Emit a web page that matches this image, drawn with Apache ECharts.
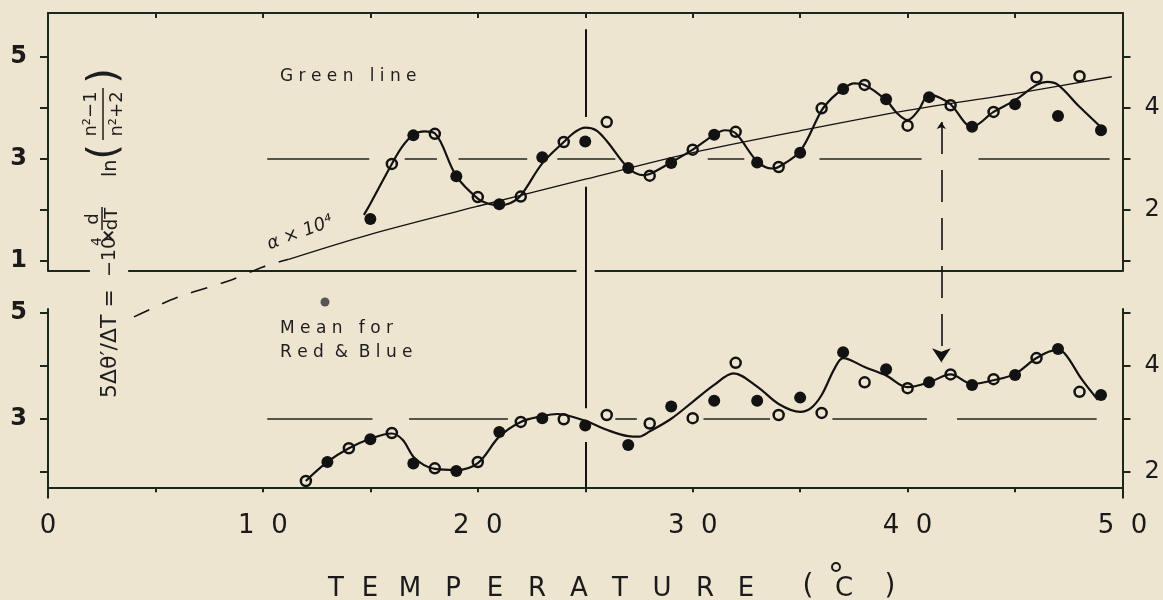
<!DOCTYPE html>
<html>
<head>
<meta charset="utf-8">
<script src="https://cdn.jsdelivr.net/npm/echarts@6/dist/echarts.min.js"></script>
<style>
html,body{margin:0;padding:0;background:#eee5d1;}
#c{width:1163px;height:600px;}
</style>
</head>
<body>
<div id="c"></div>
<script>
// ---------- DATA ----------
// Upper panel: "Green line"
const topFilled = [[15,1.82],[17,3.46],[19,2.66],[21,2.11],[23,3.03],[25,3.34],[27,2.82],[29,2.92],[31,3.47],[33,2.93],[35,3.12],[37,4.37],[39,4.17],[41,4.21],[43,3.63],[45,4.07],[47,3.84],[49,3.56]];
const topOpen = [[16,2.90],[18,3.49],[20,2.25],[22,2.26],[24,3.33],[26,3.72],[28,2.67],[30,3.18],[32,3.53],[34,2.84],[36,3.99],[38,4.45],[40,3.65],[42,4.05],[44,3.92],[46,4.60],[48,4.62]];
const topCurve = [[14.7,1.90],[15,2.12],[16,2.90],[16.5,3.25],[17,3.47],[17.5,3.54],[18,3.50],[19,2.66],[20,2.22],[20.5,2.12],[21,2.09],[21.5,2.13],[22,2.28],[23,2.91],[24,3.33],[24.5,3.52],[25,3.61],[25.5,3.56],[26,3.35],[27,2.82],[27.7,2.68],[28,2.70],[29,2.93],[30,3.18],[31,3.47],[31.5,3.56],[32,3.50],[33,2.95],[33.7,2.81],[34,2.84],[35,3.15],[36,3.95],[36.5,4.20],[37,4.37],[37.5,4.48],[38,4.45],[39,4.15],[39.5,3.90],[40,3.76],[40.5,3.95],[41,4.26],[41.5,4.20],[42,4.07],[43,3.63],[44,3.92],[45,4.15],[46,4.45],[46.5,4.51],[47,4.45],[48,4.02],[49.1,3.58]];
// alpha x 10^4 (thermal expansion)
const alphaSolid = [[11.2,1.03],[15,1.52],[20,2.07],[25,2.60],[30,3.12],[35,3.55],[40,3.95],[45,4.28],[49.5,4.61]];
const alphaDashed = [[4,-0.10],[6,0.28],[8.5,0.62],[10,0.88],[11.2,1.03]];
// Lower panel: "Mean for Red & Blue"
const botFilled = [[13,2.18],[15,2.61],[17,2.15],[19,2.01],[21,2.75],[23,3.01],[25,2.87],[27,2.50],[29,3.23],[31,3.34],[33,3.34],[35,3.40],[37,4.26],[39,3.94],[41,3.69],[43,3.64],[45,3.83],[47,4.32],[49,3.45]];
const botOpen = [[12,1.82],[14,2.44],[16,2.73],[18,2.06],[20,2.18],[22,2.94],[24,2.99],[26,3.07],[28,2.91],[30,3.01],[32,4.06],[34,3.07],[36,3.11],[38,3.69],[40,3.58],[42,3.84],[44,3.75],[46,4.15],[48,3.51]];
const botCurve = [[12,1.82],[13,2.18],[14,2.44],[15,2.62],[16,2.72],[16.5,2.60],[17,2.28],[17.5,2.12],[18,2.05],[19,2.03],[20,2.16],[21,2.66],[22,2.94],[23,3.05],[23.7,3.09],[24,3.08],[25,2.96],[26,2.79],[27,2.67],[27.5,2.66],[28,2.76],[29,3.00],[30,3.32],[31,3.64],[31.9,3.86],[33,3.61],[34,3.28],[35,3.13],[35.5,3.20],[36,3.45],[36.6,3.95],[37,4.15],[38,3.98],[39,3.82],[40,3.60],[41,3.69],[42,3.84],[43,3.66],[44,3.73],[45,3.85],[46,4.15],[46.9,4.30],[47.3,4.24],[48.1,3.75],[48.85,3.36]];
// reference level (value 3) drawn in broken segments [from, to]
const topRefSegs = [[10.2,14.95],[16.6,18.1],[19.1,22.3],[23.7,26.4],[30.7,32.4],[35.9,40.65],[43.3,49.4]];
const botRefSegs = [[10.2,15.1],[16.8,21.4],[26.4,27.4],[30.5,33.6],[36.5,40.9],[42.3,48.8]];
const refLevel = 3;
// separator line between panels (upper panel bottom edge), broken segments
const sepSegs = [[0,1.95],[3.73,24.59],[25.44,50]];
// vertical marker at 25 C (value ranges in each panel)
const markT = 25;
const vTopSegs = [[5.54,3.82],[2.45,0.8]];
const vBotSegs = [[5.8,3.20],[2.56,1.7]];
// dashed double arrow at 41.6 C
const arrowT = 41.57;
const arrowRange = [3.72,-0.99];
// axis ticks / labels
const xTicks = [5,10,15,20,25,30,35,40,45];
const xLabels = [0,10,20,30,40,50];
const yTicksTop = [1,2,3,4,5];
const yLabTopLeft = [1,3,5];
const yLabTopRight = [2,4];
const yTicksBot = [2,3,4,5];
const yLabBotLeft = [3,5];
const yLabBotRight = [2,4];
const topRange = [0.8,5.86];
const botRange = [1.7,5.08];
const xRange = [0,50];
// short extensions of the lower panel's side axes below the x axis
const axisExt = [[1.7,1.49]];

// ---------- STYLE ----------
const BG = '#eee5d1';
const INK = '#121212';
const AX = '#1b271d';
const FONT = 'DejaVu Sans';

const chart = echarts.init(document.getElementById('c'), null, {renderer:'canvas'});

function yAx(grid, pos, range, ticks, labels){
  return {
    type:'value', gridIndex:grid, position:pos, min:range[0], max:range[1],
    axisLine:{show:true, lineStyle:{color:AX, width:2}},
    axisTick:{show:true, length:8, lineStyle:{color:AX, width:2}, customValues:ticks},
    axisLabel:{show:true, customValues:labels, color:'#1a1a1a', fontSize:24, fontFamily:FONT,
      fontWeight: pos==='left' ? 'bold' : 'normal', margin:pos==='left'?21:22},
    splitLine:{show:false}
  };
}
function segLines(segs, y, xi, yi, style){
  return {type:'lines', coordinateSystem:'cartesian2d', xAxisIndex:xi, yAxisIndex:yi, clip:false, silent:true,
    lineStyle:style, data: segs.map(s=>({coords:[[s[0],y],[s[1],y]]}))};
}
function vLines(t, segs, xi, yi, style){
  return {type:'lines', coordinateSystem:'cartesian2d', xAxisIndex:xi, yAxisIndex:yi, clip:false, silent:true,
    lineStyle:style, data: segs.map(s=>({coords:[[t,s[0]],[t,s[1]]]}))};
}

const refStyle = {color:AX, width:1.6, opacity:1};
const markStyle = {color:INK, width:2, opacity:1};
const filledStyle = {color:INK, opacity:1};
const openStyle = {color:BG, borderColor:INK, borderWidth:2.5, opacity:1};
const axStyle = {color:AX, width:2, opacity:1};

const series = [
  // upper panel
  segLines(topRefSegs, refLevel, 0, 0, refStyle),
  segLines(sepSegs, topRange[0], 0, 0, axStyle),
  vLines(markT, vTopSegs, 0, 0, markStyle),
  {type:'line', xAxisIndex:0, yAxisIndex:0, data:alphaSolid, smooth:0.3, showSymbol:false, clip:false,
    lineStyle:{color:INK, width:1.3}},
  {type:'line', xAxisIndex:0, yAxisIndex:0, data:alphaDashed, smooth:0.3, showSymbol:false, clip:false,
    lineStyle:{color:INK, width:1.6, type:[17,14]}},
  {type:'lines', coordinateSystem:'cartesian2d', xAxisIndex:0, yAxisIndex:0, clip:false, silent:true,
    symbol:['arrow','arrow'], symbolSize:[7,14],
    lineStyle:{color:INK, width:1.6, type:[32,16], opacity:1},
    data:[{coords:[[arrowT,arrowRange[0]],[arrowT,arrowRange[1]]]}]},
  {type:'line', xAxisIndex:0, yAxisIndex:0, data:topCurve, smooth:0.35, showSymbol:false,
    lineStyle:{color:INK, width:2.2}},
  {type:'scatter', xAxisIndex:0, yAxisIndex:0, data:topFilled, symbolSize:12, itemStyle:filledStyle},
  {type:'scatter', xAxisIndex:0, yAxisIndex:0, data:topOpen, symbolSize:10, itemStyle:openStyle},
  // lower panel
  segLines(botRefSegs, refLevel, 1, 2, refStyle),
  vLines(markT, vBotSegs, 1, 2, markStyle),
  vLines(xRange[0], axisExt, 1, 2, axStyle),
  vLines(xRange[1], axisExt, 1, 2, axStyle),
  {type:'line', xAxisIndex:1, yAxisIndex:2, data:botCurve, smooth:0.35, showSymbol:false,
    lineStyle:{color:INK, width:2.2}},
  {type:'scatter', xAxisIndex:1, yAxisIndex:2, data:botFilled, symbolSize:12, itemStyle:filledStyle},
  {type:'scatter', xAxisIndex:1, yAxisIndex:2, data:botOpen, symbolSize:10, itemStyle:openStyle}
];

// axis title letters
const titleLetters = 'TEMPERATURE'.split('');
const titleX = [336,370,410,453,495,537,579,620,662,705,746];
const graphics = [];
titleLetters.forEach((ch,i)=>{
  graphics.push({type:'text', x:titleX[i], y:589, style:{text:ch, fill:'#1a1a1a', font:'26px "DejaVu Sans"', textAlign:'center', textVerticalAlign:'middle'}});
});
graphics.push({type:'text', x:808, y:587, style:{text:'(', fill:'#1a1a1a', font:'28px "DejaVu Sans"', textAlign:'center', textVerticalAlign:'middle'}});
graphics.push({type:'text', x:844, y:589, style:{text:'C', fill:'#1a1a1a', font:'26px "DejaVu Sans"', textAlign:'center', textVerticalAlign:'middle'}});
graphics.push({type:'text', x:890, y:587, style:{text:')', fill:'#1a1a1a', font:'28px "DejaVu Sans"', textAlign:'center', textVerticalAlign:'middle'}});
graphics.push({type:'circle', shape:{cx:836, cy:567, r:4}, style:{fill:'none', stroke:'#1a1a1a', lineWidth:2}});

// panel labels
const lab = (t,x,y,fs)=>({type:'text', x:x, y:y, style:{text:t, fill:'#1d1d1d', font:(fs||17)+'px "DejaVu Sans"', textAlign:'left', textVerticalAlign:'middle'}});
graphics.push(lab('G r e e n   l i n e', 280, 77));
graphics.push(lab('M e a n   f o r', 280, 329));
graphics.push(lab('R e d  &  B l u e', 280, 353));
graphics.push({type:'text', x:300, y:233, rotation:0.36, style:{text:'α × 10⁴', fill:'#1d1d1d', font:'italic 18px "DejaVu Sans"', textAlign:'center', textVerticalAlign:'middle'}});
graphics.push({type:'circle', shape:{cx:325, cy:302, r:4.5}, style:{fill:'#555', stroke:'none'}});

// rotated y-axis title
const tf = (fs)=>fs+'px "DejaVu Sans"';
const yt = {type:'group', x:110, y:398, rotation:Math.PI/2, children:[
  {type:'text', x:0, y:0, style:{text:'5Δθ′/ΔT =', fill:'#1d1d1d', font:tf(22), textAlign:'left', textVerticalAlign:'middle'}},
  {type:'text', x:121, y:0, style:{text:'−10', fill:'#1d1d1d', font:tf(19), textAlign:'left', textVerticalAlign:'middle'}},
  {type:'text', x:152, y:-13, style:{text:'4', fill:'#1d1d1d', font:tf(14), textAlign:'left', textVerticalAlign:'middle'}},
  {type:'text', x:155, y:0, style:{text:'×', fill:'#1d1d1d', font:'bold 17px "DejaVu Sans"', textAlign:'left', textVerticalAlign:'middle'}},
  {type:'text', x:179, y:-17, style:{text:'d', fill:'#1d1d1d', font:tf(18), textAlign:'center', textVerticalAlign:'middle'}},
  {type:'line', shape:{x1:168, y1:-8, x2:191, y2:-8}, style:{stroke:'#1d1d1d', lineWidth:1.5}},
  {type:'text', x:179, y:2, style:{text:'dT', fill:'#1d1d1d', font:tf(18), textAlign:'center', textVerticalAlign:'middle'}},
  {type:'text', x:221, y:1, style:{text:'ln', fill:'#1d1d1d', font:tf(19), textAlign:'left', textVerticalAlign:'middle'}},
  {type:'text', x:246, y:-4, style:{text:'(', fill:'#1d1d1d', font:tf(40), textAlign:'center', textVerticalAlign:'middle'}},
  {type:'text', x:284, y:-19, style:{text:'n²−1', fill:'#1d1d1d', font:tf(18), textAlign:'center', textVerticalAlign:'middle'}},
  {type:'line', shape:{x1:258, y1:-7, x2:310, y2:-7}, style:{stroke:'#1d1d1d', lineWidth:1.5}},
  {type:'text', x:284, y:7, style:{text:'n²+2', fill:'#1d1d1d', font:tf(18), textAlign:'center', textVerticalAlign:'middle'}},
  {type:'text', x:322, y:-4, style:{text:')', fill:'#1d1d1d', font:tf(40), textAlign:'center', textVerticalAlign:'middle'}}
]};
graphics.push(yt);

chart.setOption({
  backgroundColor: BG,
  animation:false,
  grid:[
    {left:48, right:40.5, top:13, height:258},
    {left:48, right:40.5, top:309, height:178.3}
  ],
  xAxis:[
    {type:'value', gridIndex:0, position:'top', min:xRange[0], max:xRange[1],
      axisLine:{show:true, lineStyle:{color:AX, width:2}},
      axisTick:{show:true, inside:true, length:5, customValues:xTicks, lineStyle:{color:AX, width:2}},
      axisLabel:{show:false}, splitLine:{show:false}},
    {type:'value', gridIndex:1, position:'bottom', min:xRange[0], max:xRange[1],
      axisLine:{show:true, lineStyle:{color:AX, width:2}},
      axisTick:{show:true, length:5, customValues:xTicks, lineStyle:{color:AX, width:2}},
      axisLabel:{show:true, customValues:xLabels, margin:26, color:'#1a1a1a', fontSize:26, fontFamily:FONT,
        formatter:v=>String(v).split('').join('  ')},
      splitLine:{show:false}}
  ],
  yAxis:[
    yAx(0,'left',topRange,yTicksTop,yLabTopLeft),
    yAx(0,'right',topRange,yTicksTop,yLabTopRight),
    yAx(1,'left',botRange,yTicksBot,yLabBotLeft),
    yAx(1,'right',botRange,yTicksBot,yLabBotRight)
  ],
  series: series,
  graphic: graphics
});
</script>
</body>
</html>
